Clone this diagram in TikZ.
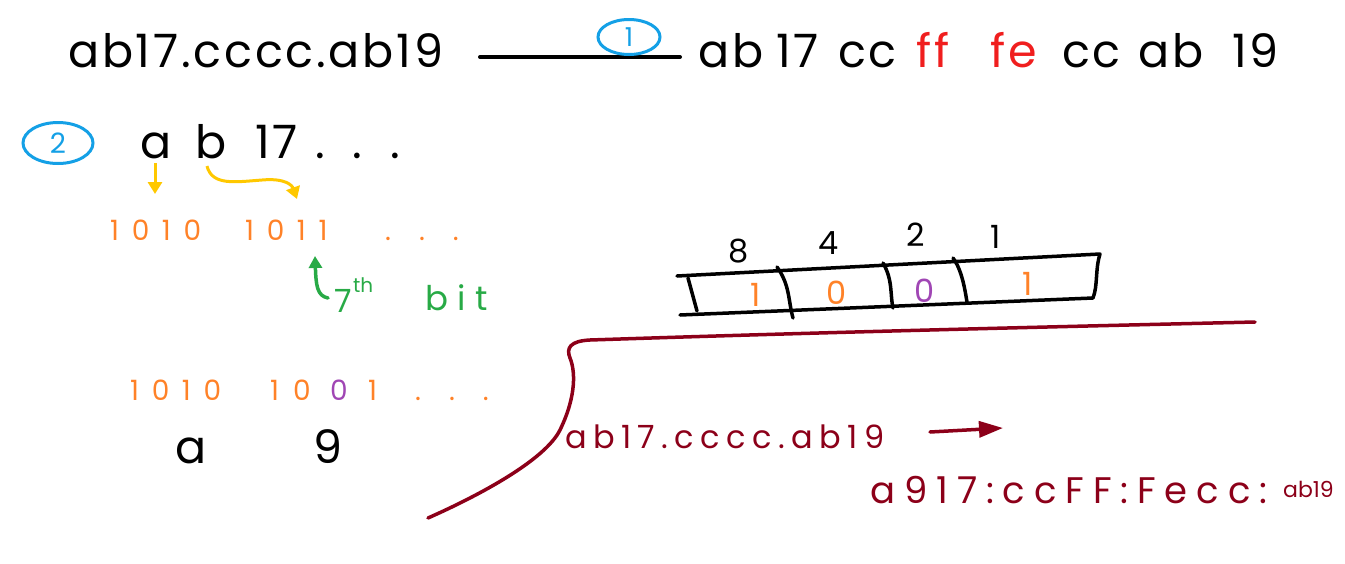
\documentclass[tikz,border=0pt]{standalone}
\usepackage{fontspec}
\setmainfont{Poppins}
\newfontfamily\handA[LetterSpace=6]{Poppins}
\newfontfamily\handB[LetterSpace=20]{Poppins}
\newfontfamily\handE[LetterSpace=24]{Poppins}
\newfontfamily\handC[LetterSpace=28]{Poppins}
\newfontfamily\handD[LetterSpace=45]{Poppins}
\usetikzlibrary{shapes.geometric,arrows.meta}
\definecolor{hblue}{RGB}{20,160,230}
\definecolor{hyellow}{RGB}{255,200,0}
\definecolor{horange}{RGB}{255,130,40}
\definecolor{hgreen}{RGB}{40,170,70}
\definecolor{hpurple}{RGB}{160,70,180}
\definecolor{hred}{RGB}{240,30,30}
\definecolor{hdred}{RGB}{140,0,25}
\tikzset{
  txt/.style={anchor=base west, inner sep=0pt},
  big/.style={txt, font=\handA\fontsize{46}{50}\selectfont},
  mid/.style={txt, font=\fontsize{32}{36}\selectfont},
  dig/.style={txt, font=\handD\fontsize{28}{30}\selectfont},
  onedig/.style={txt, font=\fontsize{28}{30}\selectfont},
  bubble/.style={ellipse, draw=hblue, line width=3pt, text=hblue, inner sep=0pt},
  yarrow/.style={draw=hyellow, line width=3pt, -{Triangle[length=12pt,width=14pt]}},
  pen/.style={line width=3.5pt, line cap=round, line join=round},
}
\begin{document}
\begin{tikzpicture}[x=1pt,y=-1pt]
\useasboundingbox (0,0) rectangle (1345,563);
% row 1
\node[big] (t1) at (68,67) {ab17.cccc.ab19};
\node[big] (w1a) at (698,67) {ab};
\node[big] (w1b) at (776,67) {17};
\node[big] (w1c) at (838,67) {cc};
\node[big, text=hred] (w1d) at (916,67) {ff};
\node[big, text=hred] (w1e) at (990,67) {fe};
\node[big] (w1f) at (1062,67) {cc};
\node[big] (w1g) at (1138,67) {ab};
\node[big] (w1h) at (1232,67) {19};
\coordinate (l1) at (480,57);
\coordinate (l2) at (680,57);
\draw[pen, line width=4pt] (l1) -- (l2);
\node[bubble, minimum width=62pt, minimum height=35pt, font=\fontsize{26}{28}\selectfont] (c1) at (629,37) {1};
% row 2
\node[bubble, minimum width=70pt, minimum height=41pt, font=\fontsize{28}{30}\selectfont] (c2) at (58,143) {2};
\node[big] (ha) at (140,158) {a};
\node[big] (hb) at (195,158) {b};
\node[big] (h17) at (255,158) {17};
\node[big] (hdots) at (315,158) {.\hspace{28pt}.\hspace{28pt}.};
\draw[yarrow] (155,163) -- (155,194);
\draw[yarrow] (207,166) .. controls (212,186) and (235,182) .. (262,180) .. controls (285,178) and (292,185) .. (297,199);
% binary row
\node[dig, text=horange] (b1) at (110,240) {1010};
\node[dig, text=horange] (b2) at (245,240) {1011};
\node[dig, text=horange] (b3) at (385,240) {.\hspace{28pt}.\hspace{28pt}.};
\draw[draw=hgreen, pen, -{Triangle[length=12pt,width=13pt]}] (328,298) .. controls (317,296) and (316,285) .. (315,256);
\node[mid, text=hgreen] (g7) at (334,312) {7};
\node[txt, text=hgreen, font=\fontsize{20}{22}\selectfont] (gth) at (353,292) {th};
\node[txt, text=hgreen, font=\handC\fontsize{34}{36}\selectfont] (gbit) at (425,310) {bit};
% register
\coordinate (r1) at (677,276);
\coordinate (r2) at (1100,254);
\coordinate (r3) at (680,315);
\coordinate (r4) at (1093,298);
\draw[pen] (r1) -- (r2) .. controls (1095,270) and (1098,285) .. (r4) -- (r3);
\draw[pen] (688,278) -- (697,311);
\draw[pen] (777,267) .. controls (790,285) and (788,300) .. (793,318);
\draw[pen] (883,263) .. controls (893,280) and (890,295) .. (893,308);
\draw[pen] (953,258) .. controls (962,270) and (965,290) .. (967,302);
\node[mid] (w8) at (728,262) {8};
\node[mid] (w4) at (818,254) {4};
\node[mid] (w2) at (906,246) {2};
\node[mid] (wone) at (990,248) {1};
\node[mid, text=horange] (v1) at (750,306) {1};
\node[mid, text=horange] (v2) at (826,304) {0};
\node[mid, text=hpurple] (v3) at (914,302) {0};
\node[mid, text=horange] (v4) at (1022,295) {1};
% second binary row
\node[dig, text=horange] (d1) at (130,400) {1010};
\node[onedig, text=horange] (d2a) at (270,400) {1};
\node[onedig, text=horange] (d2b) at (293,400) {0};
\node[onedig, text=hpurple] (d2c) at (330,400) {0};
\node[onedig, text=horange] (d2d) at (368,400) {1};
\node[dig, text=horange] (d3) at (415,400) {.\hspace{28pt}.\hspace{28pt}.};
\node[big] (da) at (175,463) {a};
\node[big] (d9) at (313,463) {9};
% dark red
\draw[draw=hdred, pen] (428,518) .. controls (480,495) and (545,460) .. (560,430) .. controls (577,395) and (575,370) .. (570,358) .. controls (566,348) and (570,341) .. (590,340) .. controls (800,333) and (1000,328) .. (1255,322);
\node[txt, text=hdred, font=\handB\fontsize{32}{36}\selectfont] (e1) at (565,448) {ab17.cccc.ab19};
\coordinate (e2) at (1003,428);
\draw[draw=hdred, pen, -{Triangle[length=24pt,width=16pt]}] (930,432) -- (e2);
\node[txt, text=hdred, font=\handE\fontsize{37}{40}\selectfont] (e3) at (870,503) {a917:ccFF:Fecc:};
\node[txt, text=hdred, font=\fontsize{22}{24}\selectfont] (e4) at (1283,497) {ab19};
\end{tikzpicture}
\end{document}
